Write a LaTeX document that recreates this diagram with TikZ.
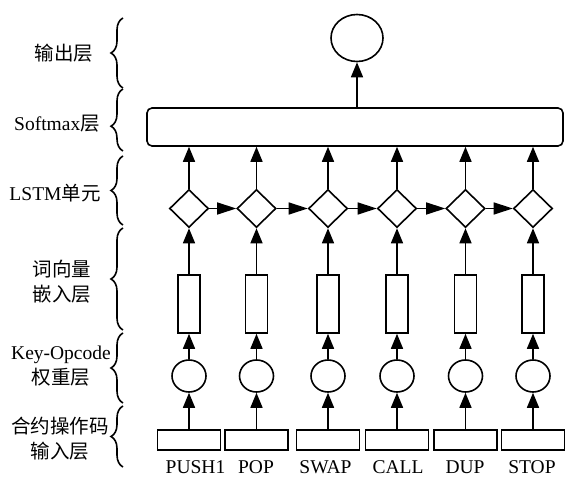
\documentclass[tikz,border=0pt]{standalone}
\usepackage{fontspec}
\setmainfont{Liberation Serif}
\newfontfamily\cjk{Noto Sans CJK SC}
\usetikzlibrary{arrows.meta,shapes.geometric,decorations.pathreplacing}
\begin{document}
\begin{tikzpicture}[x=1pt,y=1pt,
  lw/.style={line width=1.6pt},
  txt/.style={font=\fontsize{19.5}{25}\selectfont, inner sep=0pt, align=center},
  inbox/.style={draw, lw, minimum width=63pt, minimum height=20pt, inner sep=0pt},
  wcirc/.style={draw, lw, ellipse, minimum width=34pt, minimum height=32pt, inner sep=0pt},
  embox/.style={draw, lw, minimum width=22pt, minimum height=58pt, inner sep=0pt},
  lstm/.style={draw, lw, diamond, minimum width=39pt, minimum height=38pt, inner sep=0pt},
  soft/.style={draw, lw, rounded corners=5pt, minimum width=416pt, minimum height=38pt, inner sep=0pt},
  outc/.style={draw, lw, ellipse, minimum width=52pt, minimum height=47pt, inner sep=0pt},
  varr/.style={lw, -{Triangle[length=15pt,width=12pt]}},
  harr/.style={lw, -{Triangle[length=19pt,width=12pt]}},
  brc/.style={lw, decorate, decoration={brace, amplitude=12pt}},
]
\useasboundingbox (0,0) rectangle (565,479);

% left labels
\node[txt] (l1) at (64,426) {{\cjk 输出层}};
\node[txt] (l2) at (57,355) {Softmax{\cjk 层}};
\node[txt] (l3) at (55,286) {LSTM{\cjk 单元}};
\node[txt] (l4) at (62,197.5) {{\cjk 词向量}\\{\cjk 嵌入层}};
\node[txt] (l5) at (61,112.5) {Key-Opcode\\{\cjk 权重层}};
\node[txt] (l6) at (60,40.5) {{\cjk 合约操作码}\\{\cjk 输入层}};

% braces
\draw[brc] (123,391) -- (123,461);
\draw[brc, decoration={brace, amplitude=12pt, aspect=0.4}] (123,328) -- (123,390);
\draw[brc] (123,254) -- (123,323);
\draw[brc] (123,149) -- (123,251);
\draw[brc] (123,76) -- (123,146);
\draw[brc] (123,12) -- (123,73);

% top layers
\node[soft] (sm) at (355,352) {};
\node[outc] (out) at (357,441) {};
\draw[varr] (sm.north -| out.south) -- (out.south);

% columns
\foreach \i/\x/\lab/\lx in {1/189/PUSH1/195.5, 2/256.5/POP/256, 3/328/SWAP/325.5, 4/397/CALL/398, 5/465.5/DUP/465, 6/533/STOP/532}{
  \node[inbox] (in\i) at (\x,39) {};
  \node[txt, anchor=base] (t\i) at (\lx,5) {\lab};
  \node[wcirc] (w\i) at (\x,103) {};
  \node[embox] (e\i) at (\x,175) {};
  \node[lstm] (d\i) at (\x,270.5) {};
  \draw[varr] (in\i.north) -- (w\i.south);
  \draw[varr] (w\i.north) -- (e\i.south);
  \draw[varr] (e\i.north) -- (d\i.south);
  \draw[varr] (d\i.north) -- (d\i.north |- sm.south);
}
\foreach \a/\b in {1/2,2/3,3/4,4/5,5/6}{
  \draw[harr] (d\a.east) -- (d\b.west);
}
\end{tikzpicture}
\end{document}
